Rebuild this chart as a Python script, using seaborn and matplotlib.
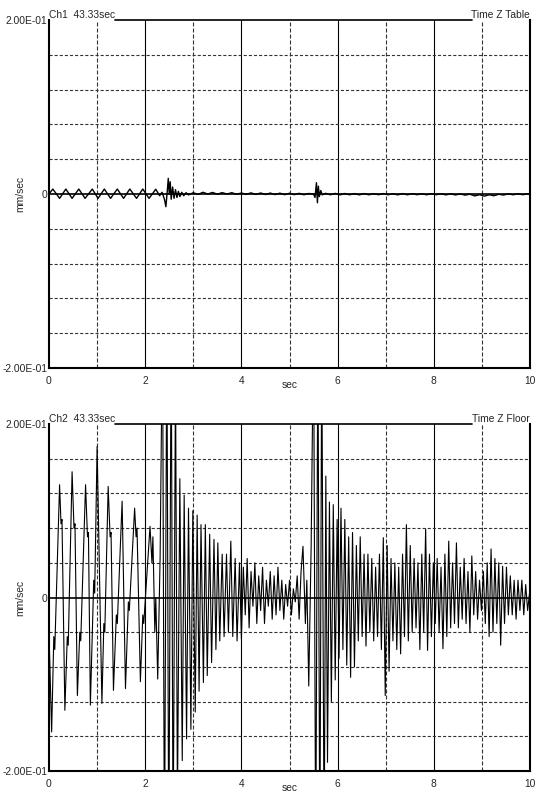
import matplotlib
matplotlib.use("Agg")
import matplotlib.pyplot as plt
import seaborn as sns

# Ch1 - table, peaks (sec, mm/sec)
table_t = [0.00, 0.08, 0.22, 0.35, 0.48, 0.62, 0.75, 0.90, 1.02, 1.15, 1.28, 1.42,
           1.55, 1.68, 1.82, 1.95, 2.08, 2.22, 2.30, 2.35, 2.40, 2.43, 2.46, 2.48,
           2.50, 2.52, 2.54, 2.57, 2.60, 2.63, 2.66, 2.69, 2.72, 2.76, 2.80, 2.85,
           2.90, 3.00, 3.10, 3.20, 3.30, 3.40, 3.50, 3.60, 3.70, 3.80, 3.90, 4.00,
           4.10, 4.20, 4.30, 4.40, 4.50, 4.60, 4.70, 4.80, 4.90, 5.00, 5.10, 5.20,
           5.30, 5.40, 5.50, 5.53, 5.56, 5.58, 5.60, 5.62, 5.65, 5.68, 5.75, 5.85,
           5.95, 6.05, 6.15, 6.25, 6.35, 6.45, 6.55, 6.65, 6.75, 6.85, 6.95, 7.05,
           7.15, 7.25, 7.35, 7.45, 7.55, 7.65, 7.75, 7.85, 7.95, 8.05, 8.15, 8.25,
           8.35, 8.45, 8.55, 8.65, 8.75, 8.85, 8.95, 9.05, 9.15, 9.25, 9.35, 9.45,
           9.55, 9.65, 9.75, 9.85, 9.95, 10.0]
table_v = [0.0, 0.0057, -0.005, 0.0057, -0.005, 0.0057, -0.005, 0.0057, -0.005, 0.0057, -0.005, 0.0057,
           -0.005, 0.0057, -0.005, 0.0057, -0.005, 0.0055, -0.002, 0.002, -0.006, -0.0146, 0.004, 0.018,
           0.0, 0.014, -0.006, 0.008, -0.005, 0.005, -0.004, 0.003, -0.003, 0.002, -0.002, 0.0015,
           -0.001, 0.0015, -0.0005, 0.002, 0.0, 0.0018, -0.0002, 0.0016, 0.0, 0.0015, -0.0003, 0.0012,
           -0.0004, 0.0013, -0.0005, 0.0012, -0.0006, 0.0011, -0.0007, 0.001, -0.0008, 0.0009, -0.0008, 0.0008,
           -0.0009, 0.0006, 0.0, -0.004, 0.013, -0.01, 0.009, -0.003, 0.004, -0.001, 0.0008, -0.0009,
           0.0007, -0.001, 0.0006, -0.0009, 0.0005, -0.001, 0.0005, -0.0009, 0.0004, -0.0008, 0.0005, -0.0009,
           0.0004, -0.001, 0.0005, -0.0009, 0.0004, -0.0008, 0.0003, -0.0009, 0.0004, -0.0008, 0.0003, -0.001,
           0.0002, -0.0011, 0.0001, -0.0013, -0.0002, -0.0022, -0.0008, -0.0024, -0.0009, -0.002, -0.0003, -0.0012,
           0.0002, -0.0009, 0.0003, -0.0008, 0.0002, -0.0004]

# Ch2 - floor
floor_t = [0.00, 0.055, 0.10, 0.12, 0.22, 0.25, 0.27, 0.33, 0.38, 0.40, 0.48, 0.52,
           0.54, 0.59, 0.64, 0.66, 0.76, 0.80, 0.82, 0.86, 0.93, 0.95, 1.00, 1.10,
           1.14, 1.16, 1.23, 1.27, 1.29, 1.34, 1.40, 1.42, 1.52, 1.59, 1.65, 1.67,
           1.78, 1.81, 1.83, 1.90, 1.95, 1.97, 2.10, 2.14, 2.16, 2.20, 2.22, 2.26,
           2.31, 2.36, 2.40, 2.45, 2.49, 2.54, 2.58, 2.63, 2.67, 2.72, 2.77, 2.81,
           2.86, 2.90, 2.95, 2.99, 3.04, 3.08, 3.12, 3.16, 3.21, 3.25, 3.29, 3.34,
           3.38, 3.43, 3.47, 3.51, 3.55, 3.60, 3.64, 3.69, 3.73, 3.78, 3.82, 3.87,
           3.91, 3.96, 4.00, 4.04, 4.08, 4.12, 4.16, 4.20, 4.24, 4.28, 4.32, 4.36,
           4.40, 4.44, 4.48, 4.52, 4.56, 4.60, 4.64, 4.68, 4.72, 4.76, 4.80, 4.84,
           4.88, 4.92, 4.96, 5.00, 5.04, 5.08, 5.12, 5.16, 5.20, 5.24, 5.28, 5.33,
           5.36, 5.40, 5.45, 5.50, 5.545, 5.59, 5.63, 5.67, 5.72, 5.755, 5.79, 5.83,
           5.87, 5.91, 5.95, 5.99, 6.03, 6.07, 6.11, 6.15, 6.19, 6.23, 6.27, 6.31,
           6.35, 6.39, 6.43, 6.47, 6.51, 6.55, 6.59, 6.63, 6.67, 6.71, 6.75, 6.79,
           6.83, 6.87, 6.91, 6.95, 6.99, 7.03, 7.07, 7.11, 7.15, 7.19, 7.23, 7.27,
           7.31, 7.35, 7.39, 7.43, 7.47, 7.51, 7.55, 7.59, 7.63, 7.67, 7.71, 7.75,
           7.79, 7.83, 7.87, 7.91, 7.95, 7.99, 8.03, 8.07, 8.11, 8.15, 8.19, 8.23,
           8.27, 8.31, 8.35, 8.39, 8.43, 8.47, 8.51, 8.55, 8.59, 8.63, 8.67, 8.71,
           8.75, 8.79, 8.83, 8.87, 8.91, 8.95, 8.99, 9.03, 9.07, 9.11, 9.15, 9.19,
           9.23, 9.27, 9.31, 9.35, 9.39, 9.43, 9.47, 9.51, 9.55, 9.59, 9.63, 9.67,
           9.71, 9.75, 9.79, 9.83, 9.87, 9.91, 9.95, 10.0]
floor_v = [-0.04, -0.155, -0.045, -0.06, 0.13, 0.085, 0.09, -0.13, -0.045, -0.055, 0.145, 0.08,
           0.085, -0.113, -0.04, -0.05, 0.13, 0.07, 0.075, -0.124, 0.02, 0.005, 0.174, -0.122,
           -0.03, -0.04, 0.128, 0.07, 0.075, -0.107, -0.02, -0.03, 0.111, -0.105, -0.005, -0.015,
           0.103, 0.07, 0.08, -0.097, -0.02, -0.03, 0.082, 0.04, 0.07, -0.04, 0.0, -0.094,
           0.046, 0.32, -0.32, 0.32, -0.32, 0.32, -0.30, 0.26, -0.24, 0.137, -0.188, 0.118,
           -0.163, 0.103, -0.152, 0.10, -0.132, 0.095, -0.108, 0.084, -0.098, 0.084, -0.09, 0.073,
           -0.075, 0.067, -0.06, 0.063, -0.05, 0.05, -0.045, 0.05, -0.04, 0.065, -0.045, 0.045,
           -0.05, 0.04, -0.048, 0.035, -0.02, 0.045, -0.035, 0.03, -0.01, 0.04, -0.03, 0.025,
           -0.015, 0.035, -0.03, 0.02, -0.01, 0.03, -0.025, 0.025, -0.02, 0.035, -0.015, 0.02,
           -0.025, 0.015, -0.01, 0.02, -0.02, 0.01, -0.005, 0.025, -0.025, 0.03, 0.059, -0.03,
           0.02, -0.102, 0.06, 0.32, -0.32, 0.32, -0.32, 0.30, -0.30, 0.14, -0.19, 0.11,
           -0.12, 0.107, -0.095, 0.09, -0.07, 0.103, -0.06, 0.09, -0.078, 0.07, -0.092, 0.075,
           -0.08, 0.06, -0.05, 0.07, -0.045, 0.05, -0.056, 0.05, -0.04, 0.045, -0.05, 0.035,
           -0.045, 0.05, -0.06, 0.069, -0.113, 0.06, -0.085, 0.045, -0.05, 0.04, -0.06, 0.035,
           -0.065, 0.05, -0.045, 0.084, -0.05, 0.06, -0.04, 0.045, -0.035, 0.04, -0.06, 0.05,
           -0.04, 0.079, -0.061, 0.05, -0.045, 0.04, -0.03, 0.045, -0.04, 0.035, -0.059, 0.05,
           -0.045, 0.065, -0.035, 0.04, -0.03, 0.063, -0.035, 0.035, -0.025, 0.045, -0.03, 0.03,
           -0.04, 0.048, -0.02, 0.03, -0.025, 0.02, -0.015, 0.03, -0.03, 0.04, -0.045, 0.056,
           -0.04, 0.045, -0.03, 0.04, -0.055, 0.036, -0.03, 0.035, -0.02, 0.025, -0.02, 0.02,
           -0.025, 0.02, -0.015, 0.02, -0.02, 0.015, -0.015, 0.01]

x_ticks = [0, 2, 4, 6, 8, 10]
y_ticks = [-0.2, 0, 0.2]
y_tick_labels = ["-2.00E-01", "0", "2.00E-01"]

sns.set_style("white")
plt.rcParams['font.family'] = ['Liberation Sans', 'DejaVu Sans']
plt.rcParams['font.size'] = 7.4

fig = plt.figure(figsize=(5.42, 7.93), dpi=100)
ax1 = fig.add_axes([0.0904, 0.5359, 0.8875, 0.4389])
ax2 = fig.add_axes([0.0904, 0.0277, 0.8875, 0.4376])


def style_panel(ax, left_title, right_title):
    ax.set_xlim(0, 10)
    ax.set_ylim(-0.2, 0.2)
    for x in range(1, 10):
        if x % 2 == 0:
            ax.axvline(x, color='black', lw=0.8, zorder=0)
        else:
            ax.axvline(x, color='#333333', lw=0.8, ls=(0, (3.6, 1.8)), zorder=0)
    for y in [-0.16, -0.12, -0.08, -0.04, 0.04, 0.08, 0.12, 0.16]:
        ax.axhline(y, color='#333333', lw=0.8, ls=(0, (2.8, 1.8)), zorder=0)
    ax.axhline(0, color='black', lw=1.2, zorder=1)
    for s in ['left', 'bottom', 'right']:
        ax.spines[s].set_linewidth(1.5)
        ax.spines[s].set_color('black')
    ax.spines['top'].set_visible(False)
    ax.plot([0.137, 0.879], [1, 1], transform=ax.transAxes, color='black',
            lw=1.2, clip_on=False)
    ax.set_xticks(x_ticks)
    ax.set_xticklabels([str(v) for v in x_ticks])
    ax.set_yticks(y_ticks)
    ax.set_yticklabels(y_tick_labels)
    ax.tick_params(length=0, labelsize=7.4)
    ax.tick_params(axis='x', pad=6)
    ax.tick_params(axis='y', pad=1)
    ax.set_xlabel('sec', fontsize=7.4, va='center')
    ax.xaxis.set_label_coords(0.501, -0.05)
    ax.set_ylabel('mm/sec', fontsize=7.4)
    ax.yaxis.set_label_coords(-0.05, 0.5)
    ax.text(0.0, 1.0, left_title, transform=ax.transAxes, ha='left', va='bottom', fontsize=7.4)
    ax.text(1.0, 1.0, right_title, transform=ax.transAxes, ha='right', va='bottom', fontsize=7.4)


sns.lineplot(x=table_t, y=table_v, ax=ax1, color='black', lw=1.0, estimator=None, sort=False)
style_panel(ax1, "Ch1  43.33sec", "Time Z Table")

sns.lineplot(x=floor_t, y=floor_v, ax=ax2, color='black', lw=0.8, estimator=None, sort=False)
style_panel(ax2, "Ch2  43.33sec", "Time Z Floor")

fig.savefig("out.png", dpi=100)
